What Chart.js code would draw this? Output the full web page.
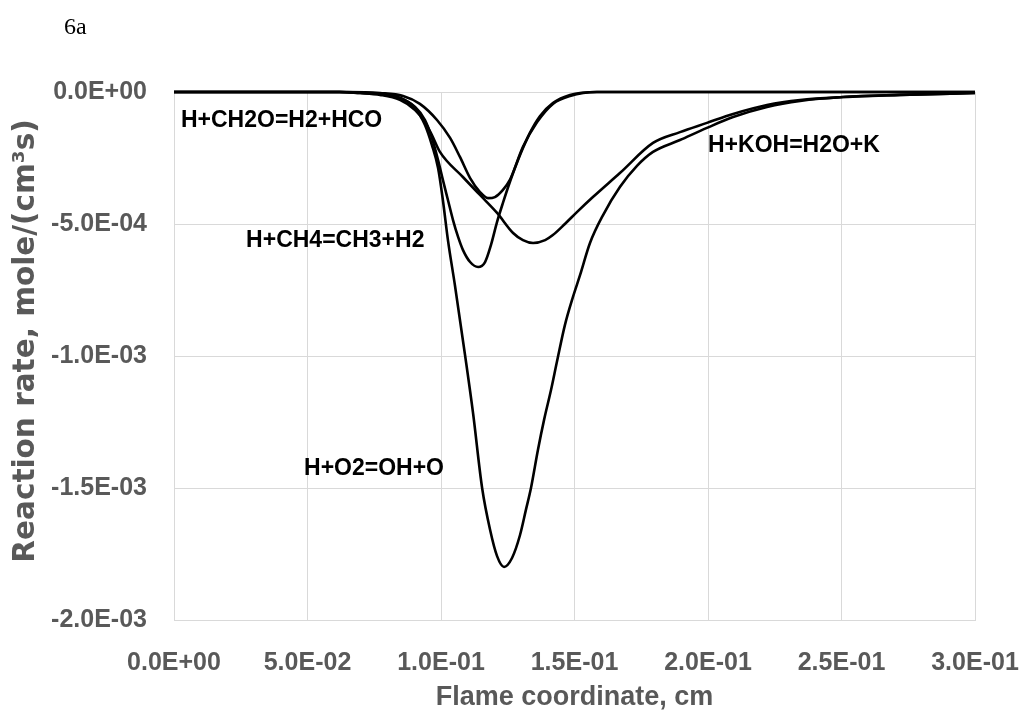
<!DOCTYPE html>
<html>
<head>
<meta charset="utf-8">
<title>6a - reaction rates</title>
<script src="https://cdn.jsdelivr.net/npm/chart.js@4.4.1/dist/chart.umd.min.js"></script>
<style>
  body { margin: 0; background: #fff; }
  #wrap { width: 1023px; height: 715px; }
</style>
</head>
<body>
<div id="wrap"><canvas id="rateChart" width="1023" height="715"></canvas></div>
<script>
// flame coordinate (cm) and reaction rate in units of 1E-03 mole/(cm3 s)
const o2X = [0, 0.062, 0.073, 0.081, 0.0858, 0.0903, 0.094, 0.0966, 0.0989, 0.1007, 0.1026, 0.1052, 0.109, 0.112, 0.1154, 0.1184, 0.121, 0.1236, 0.1266, 0.1296, 0.1318, 0.1337, 0.1363, 0.1386, 0.1412, 0.1434, 0.1464, 0.1494, 0.1521, 0.1558, 0.1607, 0.167, 0.1734, 0.1794, 0.1895, 0.1996, 0.2094, 0.2221, 0.2345, 0.2506, 0.2719, 0.3];
const o2Y = [0, 0, -0.004, -0.011, -0.027, -0.061, -0.125, -0.201, -0.288, -0.409, -0.561, -0.731, -0.996, -1.216, -1.5, -1.659, -1.758, -1.799, -1.765, -1.678, -1.583, -1.5, -1.356, -1.242, -1.129, -1.023, -0.883, -0.777, -0.693, -0.572, -0.466, -0.36, -0.28, -0.227, -0.182, -0.136, -0.095, -0.057, -0.034, -0.019, -0.011, -0.004];

const kohX = [0, 0.062, 0.0697, 0.0772, 0.0846, 0.0903, 0.094, 0.0966, 0.0996, 0.1082, 0.1146, 0.121, 0.127, 0.1307, 0.1345, 0.139, 0.1419, 0.1464, 0.1509, 0.1569, 0.167, 0.1794, 0.1895, 0.1996, 0.2094, 0.2221, 0.2345, 0.2506, 0.2719, 0.3];
const kohY = [0, 0, -0.004, -0.011, -0.03, -0.068, -0.114, -0.163, -0.227, -0.322, -0.39, -0.458, -0.534, -0.561, -0.572, -0.561, -0.542, -0.5, -0.455, -0.398, -0.307, -0.193, -0.152, -0.117, -0.083, -0.049, -0.03, -0.019, -0.011, -0.004];

const ch4X = [0, 0.062, 0.0697, 0.0772, 0.0846, 0.0903, 0.094, 0.0966, 0.0989, 0.1007, 0.1026, 0.1045, 0.1064, 0.1082, 0.1109, 0.1139, 0.1165, 0.1187, 0.121, 0.1232, 0.1258, 0.1296, 0.1333, 0.1371, 0.1419, 0.1483, 0.1584, 0.3];
const ch4Y = [0, 0, -0.004, -0.008, -0.023, -0.057, -0.106, -0.174, -0.258, -0.333, -0.409, -0.485, -0.549, -0.598, -0.644, -0.663, -0.644, -0.58, -0.492, -0.42, -0.341, -0.239, -0.155, -0.091, -0.042, -0.011, 0, 0];

const ch2oX = [0, 0.065, 0.0772, 0.0858, 0.0921, 0.0985, 0.1034, 0.1071, 0.1109, 0.1146, 0.1176, 0.1202, 0.1232, 0.1258, 0.1307, 0.136, 0.1419, 0.1483, 0.1584, 0.3];
const ch2oY = [0, 0, -0.004, -0.015, -0.045, -0.106, -0.174, -0.246, -0.326, -0.379, -0.402, -0.398, -0.371, -0.333, -0.208, -0.114, -0.045, -0.015, 0, 0];

const xTickLabels = ['0.0E+00', '5.0E-02', '1.0E-01', '1.5E-01', '2.0E-01', '2.5E-01', '3.0E-01'];
const yTickLabels = ['-2.0E-03', '-1.5E-03', '-1.0E-03', '-5.0E-04', '0.0E+00'];

const labelTexts = ['H+CH2O=H2+HCO', 'H+CH4=CH3+H2', 'H+O2=OH+O', 'H+KOH=H2O+K'];
const labelX = [0.0026, 0.027, 0.0487, 0.2];
const labelY = [-0.11, -0.564, -1.428, -0.205];

function pts(xs, ys) {
    return xs.map((x, i) => ({ x: x, y: ys[i] }));
}

function series(label, xs, ys) {
    return {
        label: label,
        data: pts(xs, ys),
        borderColor: '#000',
        borderWidth: 2.6,
        pointRadius: 0,
        fill: false,
        cubicInterpolationMode: 'monotone',
        clip: 5
    };
}

const labelPlugin = {
    id: 'curveLabels',
    afterDatasetsDraw(chart) {
        const ctx = chart.ctx;
        const x = chart.scales.x, y = chart.scales.y;
        ctx.save();
        ctx.fillStyle = '#000';
        ctx.textBaseline = 'middle';
        ctx.font = 'bold 23px "Liberation Sans", Arial, sans-serif';
        labelTexts.forEach((t, i) => {
            ctx.fillText(t, x.getPixelForValue(labelX[i]), y.getPixelForValue(labelY[i]));
        });
        ctx.font = '24px "Liberation Serif", "Times New Roman", serif';
        ctx.fillText('6a', 64, 28);

        // y axis title, sits a little above the plot centre in the original
        ctx.fillStyle = '#595959';
        ctx.font = 'bold 29.5px "DejaVu Sans", sans-serif';
        ctx.textAlign = 'center';
        ctx.translate(26, 341);
        ctx.rotate(-Math.PI / 2);
        ctx.fillText('Reaction rate, mole/(cm³s)', 0, 0);
        ctx.restore();
    }
};

const gridColor = '#d9d9d9';
const axisGray = '#595959';

new Chart(document.getElementById('rateChart').getContext('2d'), {
    type: 'line',
    data: {
        datasets: [
            series('H+O2=OH+O', o2X, o2Y),
            series('H+KOH=H2O+K', kohX, kohY),
            series('H+CH4=CH3+H2', ch4X, ch4Y),
            series('H+CH2O=H2+HCO', ch2oX, ch2oY)
        ]
    },
    options: {
        responsive: false,
        animation: false,
        devicePixelRatio: 1,
        layout: { padding: { top: 92, right: 48, left: 0, bottom: 0 } },
        plugins: {
            legend: { display: false },
            tooltip: { enabled: false }
        },
        scales: {
            x: {
                type: 'linear',
                min: 0,
                max: 0.3,
                ticks: {
                    stepSize: 0.05,
                    padding: 28,
                    color: axisGray,
                    font: { family: '"Liberation Sans", Arial, sans-serif', weight: 'bold', size: 25 },
                    maxRotation: 0,
                    callback: (v, i) => xTickLabels[i]
                },
                grid: { color: gridColor, lineWidth: 1, drawTicks: false },
                border: { color: gridColor },
                title: {
                    display: true,
                    text: 'Flame coordinate, cm',
                    color: axisGray,
                    font: { family: '"Liberation Sans", Arial, sans-serif', weight: 'bold', size: 27 },
                    padding: { top: 0, bottom: 1 }
                },
                afterFit: (scale) => {
                    scale.height = 95;
                    // last tick label may hang past the plot; the layout padding covers it
                    scale.paddingLeft = 0;
                    scale.paddingRight = 0;
                }
            },
            y: {
                type: 'linear',
                min: -2,
                max: 0,
                ticks: {
                    stepSize: 0.5,
                    padding: 27,
                    color: axisGray,
                    font: { family: '"Liberation Sans", Arial, sans-serif', weight: 'bold', size: 25 },
                    callback: (v, i) => yTickLabels[i]
                },
                grid: { color: gridColor, lineWidth: 1, drawTicks: false },
                border: { color: gridColor },
                afterFit: (scale) => { scale.width = 174; }
            }
        }
    },
    plugins: [labelPlugin]
});
</script>
</body>
</html>
